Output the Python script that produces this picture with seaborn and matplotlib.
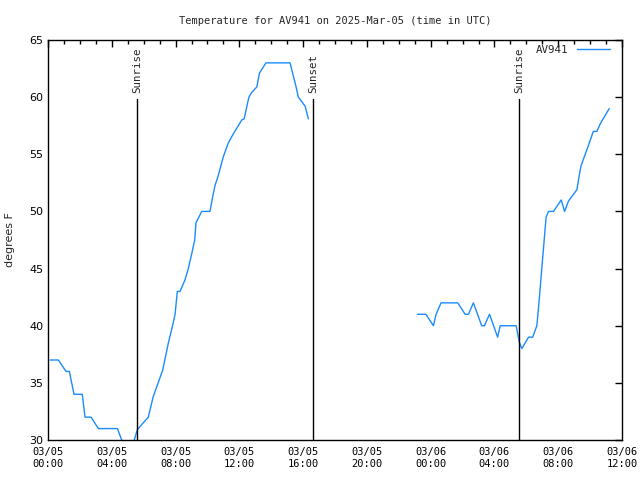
import matplotlib
matplotlib.use("Agg")
import matplotlib.pyplot as plt
import matplotlib.dates as mdates
from matplotlib.lines import Line2D
import seaborn as sns
import pandas as pd
import numpy as np

# ---- data (hours after 2025-03-05 00:00 UTC, degrees F) ----
seg1_hours = [0.13, 0.65, 1.13, 1.34, 1.63, 2.15, 2.32, 2.70, 3.16, 4.35, 4.9, 5.2, 5.6,
              6.29, 6.6, 7.19, 7.55, 7.76, 7.97, 8.11, 8.28, 8.59, 8.8, 9.0, 9.2, 9.28,
              9.64, 10.16, 10.33, 10.48, 10.65, 11.0, 11.31, 11.63, 12.15, 12.3, 12.6,
              12.77, 13.1, 13.26, 13.67, 15.18, 15.56, 15.7, 15.92, 16.13, 16.33]
seg1_temps = [37, 37, 36, 36, 34, 34, 32, 32, 31, 31, 29, 29, 30.9,
              32, 33.8, 36.1, 38.5, 39.7, 41, 43, 43, 44, 45, 46.2, 47.5, 49,
              50, 50, 51.3, 52.3, 53, 54.8, 56, 56.8, 58, 58.1, 60,
              60.4, 60.9, 62.1, 63, 63, 60.9, 60, 59.6, 59.2, 58.1]
seg2_hours = [23.17, 23.7, 24.17, 24.34, 24.65, 25.7, 26.16, 26.37, 26.68, 27.2, 27.37,
              27.69, 28.2, 28.36, 29.36, 29.5, 29.57, 29.72, 30.14, 30.4, 30.66, 30.76,
              30.97, 31.24, 31.39, 31.7, 32.19, 32.4, 32.64, 33.17, 33.3, 33.43, 33.8,
              34.2, 34.42, 34.65, 34.9, 35.2]
seg2_temps = [41, 41, 40, 41, 42, 42, 41, 41, 42, 40, 40,
              41, 39, 40, 40, 39, 38.5, 38, 39, 39, 40, 41.5,
              45, 49.5, 50, 50, 51, 50, 50.9, 51.9, 53, 54, 55.4,
              57, 57, 57.7, 58.3, 59]
event_labels = ["Sunrise", "Sunset", "Sunrise"]
event_hours = [5.6, 16.65, 29.57]
series_name = "AV941"
title = "Temperature for AV941 on 2025-Mar-05 (time in UTC)"

base = pd.Timestamp("2025-03-05 00:00")
df = pd.concat([
    pd.DataFrame({"time": base + pd.to_timedelta(seg1_hours, unit="h"),
                  "temp": seg1_temps, "seg": 1}),
    pd.DataFrame({"time": base + pd.to_timedelta(seg2_hours, unit="h"),
                  "temp": seg2_temps, "seg": 2}),
])

sns.set_style("white")
mono = "DejaVu Sans Mono"
plt.rcParams["font.family"] = [mono, "DejaVu Sans"]

fig = plt.figure(figsize=(6.4, 4.8), dpi=100)
ax = fig.add_axes([48 / 640, 1 - 440 / 480, 574 / 640, 400 / 480])

color = "#1a8cff"
sns.lineplot(data=df, x="time", y="temp", units="seg", estimator=None,
             color=color, lw=1.0, ax=ax, legend=False)

for lab, h in zip(event_labels, event_hours):
    t = base + pd.Timedelta(hours=h)
    ax.axvline(t, ymin=0, ymax=(440 - 99) / 400, color="black", lw=1.0)
    ax.text(t, 60.35, lab, rotation=90, ha="center", va="bottom",
            fontsize=7.8, family=mono)

ax.set_xlim(base, base + pd.Timedelta(hours=36))
ax.set_ylim(30, 65)
ax.set_yticks(range(30, 66, 5))
ax.xaxis.set_major_locator(mdates.HourLocator(byhour=range(0, 24, 4)))
ax.xaxis.set_minor_locator(mdates.HourLocator())
ax.xaxis.set_major_formatter(mdates.DateFormatter("%m/%d\n%H:%M"))

ax.tick_params(axis="both", which="both", direction="in", top=True, right=True,
               colors="black", labelsize=7.5)
ax.tick_params(which="major", length=5, width=1)
ax.tick_params(which="minor", length=3, width=1)
ax.tick_params(axis="x", pad=5)
for lab in ax.get_xticklabels():
    lab.set_family(mono)
for lab in ax.get_yticklabels():
    lab.set_family("DejaVu Sans")
    lab.set_fontsize(8)

for sp in ax.spines.values():
    sp.set_visible(True)
    sp.set_color("black")
    sp.set_linewidth(1.0)

ax.set_xlabel("")
ax.set_ylabel("degrees F", fontsize=8, family="DejaVu Sans", labelpad=10)
ax.set_title(title, fontsize=7.5, family=mono, pad=11.5)

handle = Line2D([], [], color=color, lw=1.0)
leg = ax.legend([handle], [series_name], loc="upper right", frameon=False,
                bbox_to_anchor=(0.99, 1.005),
                handlelength=3.0, markerfirst=False, fontsize=7.8,
                borderaxespad=0.2, handletextpad=0.8)
for txt in leg.get_texts():
    txt.set_family(mono)

fig.savefig("out.png", dpi=100)
